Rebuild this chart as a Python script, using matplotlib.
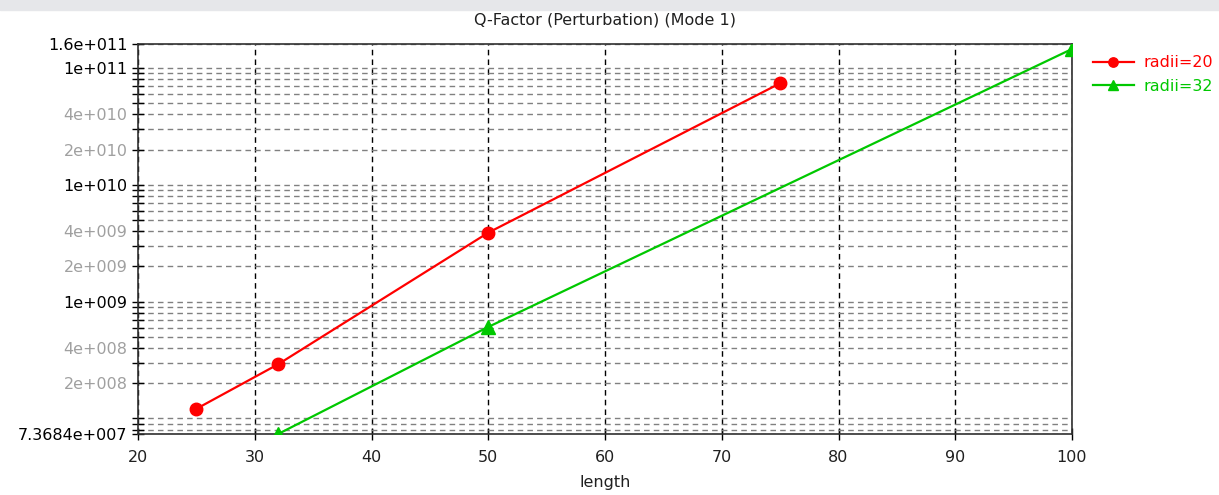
import matplotlib
matplotlib.use("Agg")
import matplotlib.pyplot as plt
from matplotlib.ticker import FixedLocator, FixedFormatter, NullFormatter
from matplotlib.patches import Rectangle

# ---- data ----
length_r20 = [25, 32, 50, 75]
q_r20 = [1.21e8, 2.91e8, 3.89e9, 7.38e10]
length_r32 = [32, 50, 100]
q_r32 = [7.3684e7, 6.07e8, 1.45e11]
series_labels = ["radii=20", "radii=32"]

x_ticks = [20, 30, 40, 50, 60, 70, 80, 90, 100]
y_ticks = [7.3684e7, 2e8, 4e8, 1e9, 2e9, 4e9, 1e10, 2e10, 4e10, 1e11, 1.6e11]
y_tick_labels = ["7.3684e+007", "2e+008", "4e+008", "1e+009", "2e+009", "4e+009",
                 "1e+010", "2e+010", "4e+010", "1e+011", "1.6e+011"]
y_label_dark = [True, False, False, True, False, False, True, False, False, True, True]
y_min, y_max = 7.3684e7, 1.6e11

title = "Q-Factor (Perturbation) (Mode 1)"
xlabel = "length"

RED = "#ff0000"
GREEN = "#00c800"
FS = 11.5

plt.rcParams['font.family'] = ['DejaVu Sans']
fig = plt.figure(figsize=(12.19, 4.95), dpi=100)
fig.patches.append(Rectangle((0, 1 - 10 / 495), 1, 10 / 495, transform=fig.transFigure,
                             color="#e6e7ea", zorder=0))
ax = fig.add_axes([138 / 1219, 1 - 434 / 495, (1072 - 138) / 1219, (434 - 44) / 495])

ax.set_yscale("log")
ax.set_xlim(20, 100)
ax.set_ylim(y_min, y_max)

# minor ticks / grid at every k*10^n inside the range
minor = []
for e in range(7, 12):
    for k in range(1, 10):
        v = k * 10.0 ** e
        if y_min < v < y_max and not any(abs(v - t) / t < 1e-6 for t in y_ticks):
            minor.append(v)

ax.yaxis.set_major_locator(FixedLocator(y_ticks))
ax.yaxis.set_major_formatter(FixedFormatter(y_tick_labels))
ax.yaxis.set_minor_locator(FixedLocator(minor))
ax.yaxis.set_minor_formatter(NullFormatter())
ax.xaxis.set_major_locator(FixedLocator(x_ticks))
ax.xaxis.set_minor_locator(FixedLocator([]))

ax.tick_params(axis="both", which="both", direction="inout", length=9, width=1,
               colors="black", labelsize=FS)
ax.tick_params(axis="x", pad=7)
ax.tick_params(axis="y", pad=3)
for lab, dark in zip(ax.get_yticklabels(), y_label_dark):
    lab.set_color("black" if dark else "#a0a0a0")
for lab in ax.get_xticklabels():
    lab.set_color("#202020")

ax.yaxis.grid(True, which="both", color="#808080", linestyle=(0, (4, 3)), linewidth=1)
ax.xaxis.grid(True, which="major", color="black", linestyle=(0, (4, 3)), linewidth=1)
ax.set_axisbelow(True)

for s in ax.spines.values():
    s.set_color("#303030")
    s.set_linewidth(1.2)

ax.plot(length_r20, q_r20, color=RED, marker="o", markersize=9, linewidth=1.6,
        label=series_labels[0], zorder=3)
ax.plot(length_r32, q_r32, color=GREEN, marker="^", markersize=10, linewidth=1.6,
        label=series_labels[1], zorder=3)

ax.set_title(title, fontsize=FS, color="#202020", pad=14)
ax.set_xlabel(xlabel, fontsize=FS, color="#202020", labelpad=7)

leg = ax.legend(loc="upper left", bbox_to_anchor=(1.01, 1.0), frameon=False,
                fontsize=FS, handlelength=2.6, handletextpad=0.6, borderaxespad=0.3,
                labelspacing=0.55, markerscale=0.75)
for txt, c in zip(leg.get_texts(), [RED, GREEN]):
    txt.set_color(c)

fig.savefig("out.png", dpi=100)
